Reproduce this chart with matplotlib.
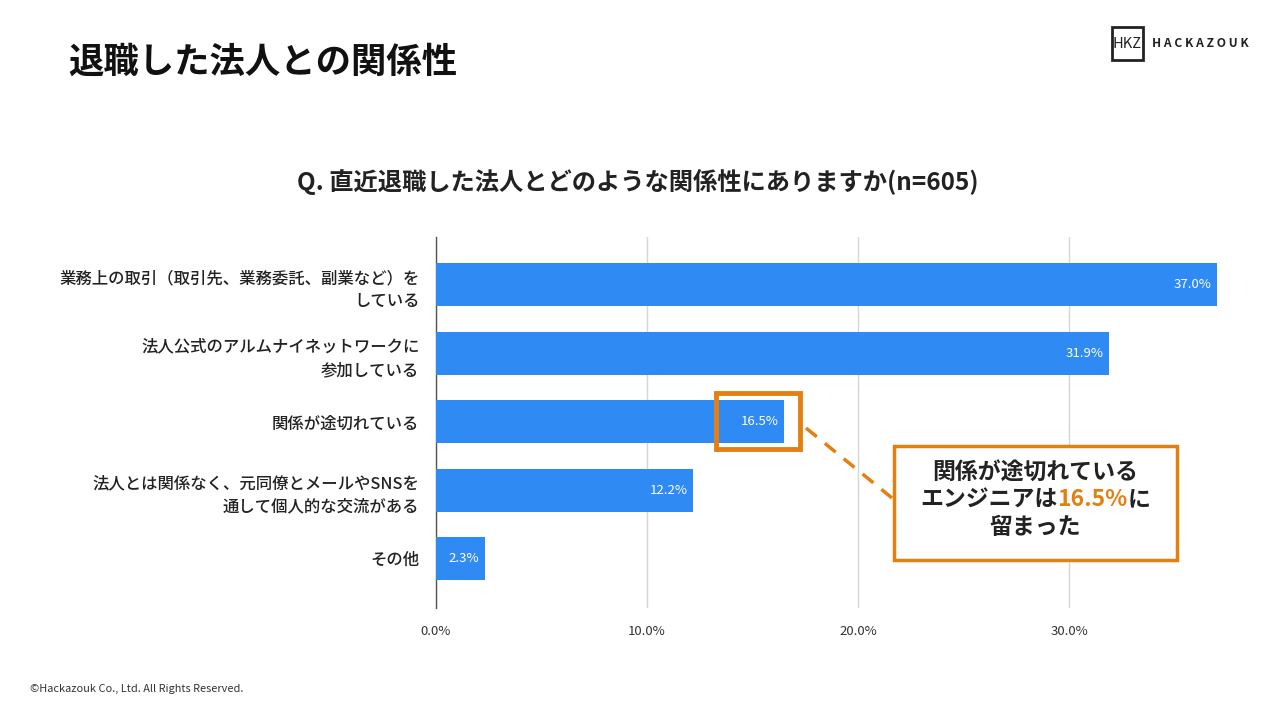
import matplotlib.pyplot as plt
from matplotlib.patches import Rectangle

plt.rcParams['font.family'] = ['Noto Sans CJK JP', 'DejaVu Sans']

categories = [
    '業務上の取引（取引先、業務委託、副業など）を\nしている',
    '法人公式のアルムナイネットワークに\n参加している',
    '関係が途切れている',
    '法人とは関係なく、元同僚とメールやSNSを\n通して個人的な交流がある',
    'その他',
]
values = [37.0, 31.9, 16.5, 12.2, 2.3]
xticks = [0, 10, 20, 30]
xtick_labels = ['0.0%', '10.0%', '20.0%', '30.0%']

blue = '#2F8AF3'
orange = '#E47F12'
dark = '#222222'

fig = plt.figure(figsize=(12.8, 7.2), dpi=100)
ax = fig.add_axes([436/1280, 1 - 608/720, (1238 - 436)/1280, (608 - 237)/720])

ypos = list(range(len(categories)))
ax.barh(ypos, values, height=0.63, color=blue, zorder=3)
for y, v in zip(ypos, values):
    ax.text(v - 0.25, y, f'{v:.1f}%', ha='right', va='center', color='white',
            fontsize=9.5, zorder=4)

ax.set_xlim(0, 38)
ax.set_ylim(4.72, -0.7)
ax.set_xticks(xticks)
ax.set_xticklabels(xtick_labels, fontsize=9.5, color='#333333')
ax.set_yticks(ypos)
ax.set_yticklabels(categories, fontsize=11.8, fontweight='medium', color=dark,
                   multialignment='right', linespacing=1.5)
ax.tick_params(axis='x', length=0, pad=12)
ax.tick_params(axis='y', length=0, pad=12)
ax.grid(axis='x', color='#d6d6d6', linewidth=1, zorder=0)
for s in ['top', 'right', 'bottom']:
    ax.spines[s].set_visible(False)
ax.spines['left'].set_color('#555555')
ax.spines['left'].set_linewidth(1)

# titles
fig.text(68/1280, 1 - 62/720, '退職した法人との関係性', fontsize=25.5, fontweight='bold',
         color='#111111', va='center', ha='left')
fig.text(638/1280, 1 - 182/720, 'Q. 直近退職した法人とどのような関係性にありますか(n=605)',
         fontsize=17.5, fontweight='bold', color=dark, va='center', ha='center')
fig.text(30/1280, 1 - 689/720, '©Hackazouk Co., Ltd. All Rights Reserved.',
         fontsize=7.9, color='#333333', va='center', ha='left')

# logo
fig.patches.append(Rectangle((1112/1280, 1 - 60/720), 31/1280, 33/720,
                             transform=fig.transFigure, fill=False,
                             edgecolor='#222222', linewidth=2))
fig.text(1127.5/1280, 1 - 43.5/720, 'HKZ', fontsize=10.5, color='#222222',
         ha='center', va='center', fontstretch='condensed')
fig.text(1152/1280, 1 - 43.5/720, 'H A C K A Z O U K', fontsize=8.7,
         fontweight='bold', color='#222222', ha='left', va='center')

# annotation: highlight box around 16.5%
fig.patches.append(Rectangle((716/1280, 1 - 449/720), 84/1280, 56/720,
                             transform=fig.transFigure, fill=False,
                             edgecolor=orange, linewidth=3.5, zorder=5))
fig.lines.append(plt.Line2D([806/1280, 892/1280], [1 - 428/720, 1 - 498/720],
                            transform=fig.transFigure, color=orange,
                            linewidth=2.5, linestyle=(0, (4, 3))))
fig.patches.append(Rectangle((894/1280, 1 - 560/720), 283/1280, 114/720,
                             transform=fig.transFigure, fill=True, facecolor='white',
                             edgecolor=orange, linewidth=2.5, zorder=5))

cx = 1035/1280
fs = 16.5
fig.text(cx, 1 - 473/720, '関係が途切れている', fontsize=fs, fontweight='bold',
         color=dark, ha='center', va='center', zorder=6)
fig.text(cx, 1 - 527/720, '留まった', fontsize=fs, fontweight='bold',
         color=dark, ha='center', va='center', zorder=6)

parts = [('エンジニアは', dark), ('16.5%', orange), ('に', dark)]
renderer = fig.canvas.get_renderer()
texts = []
widths = []
for s, c in parts:
    t = fig.text(0, 1 - 500/720, s, fontsize=fs, fontweight='bold', color=c,
                 ha='left', va='center', zorder=6)
    w = t.get_window_extent(renderer=renderer).width / fig.bbox.width
    texts.append(t)
    widths.append(w)
x0 = cx - sum(widths) / 2
for t, w in zip(texts, widths):
    t.set_x(x0)
    x0 += w

fig.savefig('out.png', dpi=100)
